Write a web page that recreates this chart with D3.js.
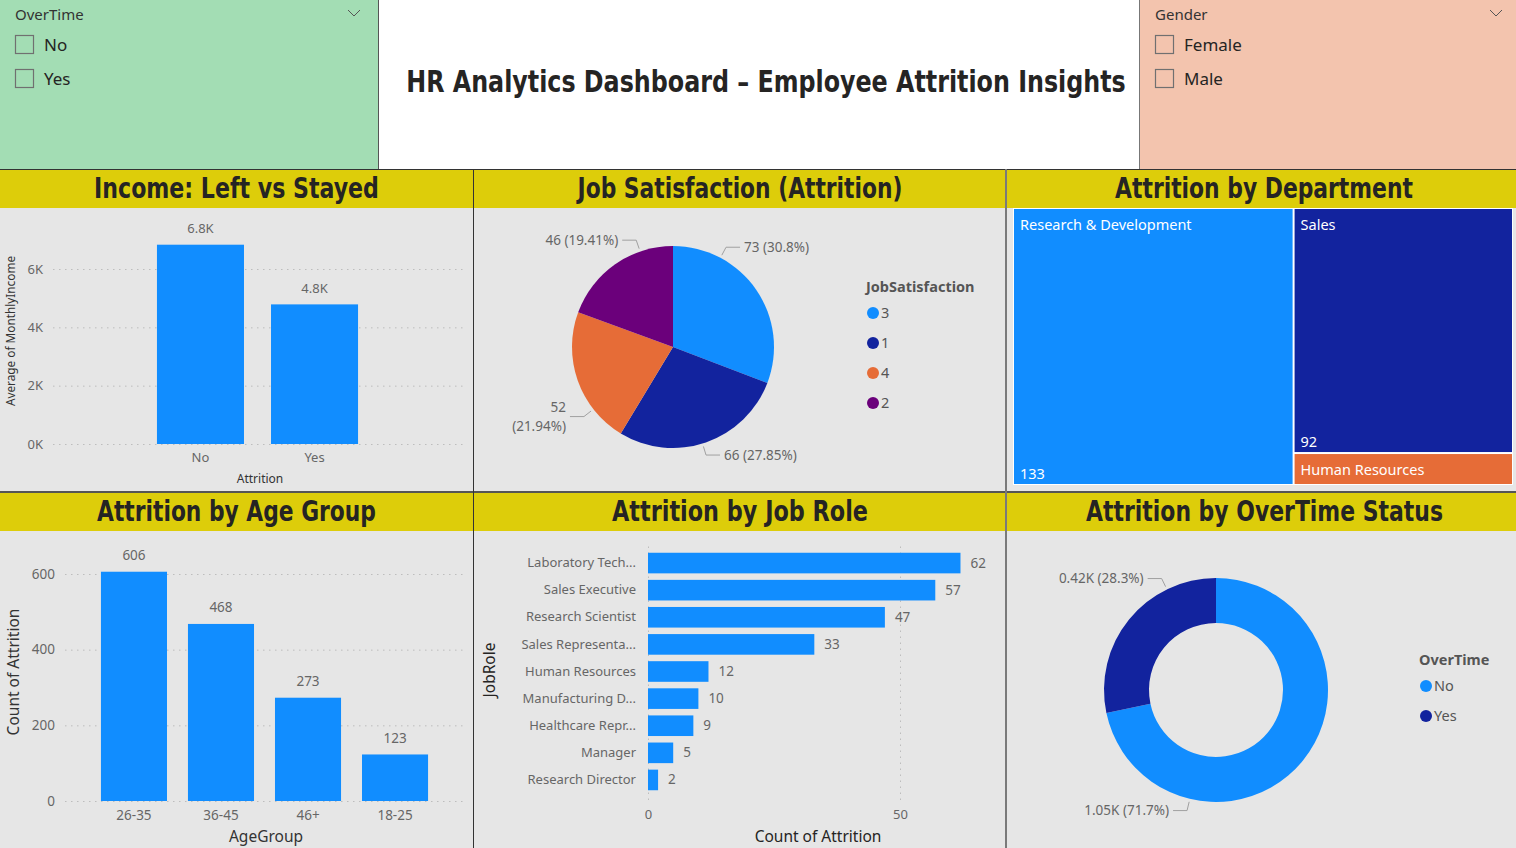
<!DOCTYPE html>
<html><head><meta charset="utf-8">
<script src="https://cdn.jsdelivr.net/npm/d3@7"></script>
<style>
body{margin:0;background:#fff;overflow:hidden}
svg{display:block}
</style>
</head><body>
<svg id="c" width="1516" height="848"></svg>
<script>
// ---------------- DATA ----------------
const incomeCategories = ["No", "Yes"];
const incomeValues = [6833, 4787];
const incomeTicks = [0, 2000, 4000, 6000];

const jobSatCategories = ["3", "1", "4", "2"];
const jobSatValues = [73, 66, 52, 46];

const deptCategories = ["Research & Development", "Sales", "Human Resources"];
const deptValues = [133, 92, 12];

const ageCategories = ["26-35", "36-45", "46+", "18-25"];
const ageValues = [606, 468, 273, 123];
const ageTicks = [0, 200, 400, 600];

const roleCategories = ["Laboratory Tech...", "Sales Executive", "Research Scientist", "Sales Representa...",
  "Human Resources", "Manufacturing D...", "Healthcare Repr...", "Manager", "Research Director"];
const roleValues = [62, 57, 47, 33, 12, 10, 9, 5, 2];
const roleTicks = [0, 50];

const overtimeCategories = ["No", "Yes"];
const overtimeValues = [1054, 416];

const overtimeSlicerItems = ["No", "Yes"];
const genderSlicerItems = ["Female", "Male"];

const titles = ["Income: Left vs Stayed", "Job Satisfaction (Attrition)", "Attrition by Department",
  "Attrition by Age Group", "Attrition by Job Role", "Attrition by OverTime Status"];
const mainTitle = "HR Analytics Dashboard \u2013 Employee Attrition Insights";

// ---------------- STYLE ----------------
const BLUE = "#118DFF", NAVY = "#12239E", ORANGE = "#E66C37", PURPLE = "#6B007B";
const jobSatColors = [BLUE, NAVY, ORANGE, PURPLE];
const deptColors = [BLUE, NAVY, ORANGE];
const overtimeColors = [BLUE, NAVY];
const SANS = "'Noto Sans','Open Sans',sans-serif";
const NARROW = "'Liberation Sans Narrow','DejaVu Sans Condensed','Roboto',sans-serif";
const PANEL_BG = "#E6E6E6", HEAD_BG = "#DDCD0A";

const svg = d3.select("#c");
svg.append("rect").attr("width", 1516).attr("height", 848).attr("fill", "#fff");

// text fitted horizontally to a target width via a transform (keeps bbox honest)
function fittedText(cx, y, str, size, targetW) {
  const g = svg.append("g");
  const t = g.append("text").attr("x", 0).attr("y", 0).attr("text-anchor", "middle")
    .attr("font-family", NARROW).attr("font-weight", "bold").attr("font-size", size)
    .attr("fill", "#252423").text(str);
  const w = t.node().getComputedTextLength() || targetW;
  g.attr("transform", `translate(${cx},${y}) scale(${targetW / w},1)`);
}

// ---------------- SLICERS ----------------
function slicer(x, w, fill, header, items, chevX) {
  const g = svg.append("g");
  g.append("rect").attr("x", x).attr("y", 0).attr("width", w).attr("height", 169).attr("fill", fill);
  g.append("text").attr("x", x + 15).attr("y", 20).text(header)
    .attr("font-family", SANS).attr("font-size", 15).attr("fill", "#333");
  g.append("polyline").attr("points", `${chevX},10 ${chevX + 6},16 ${chevX + 12},10`)
    .attr("fill", "none").attr("stroke", "#555").attr("stroke-width", 1);
  items.forEach((t, i) => {
    g.append("rect").attr("x", x + 15.5).attr("y", 35.5 + i * 34).attr("width", 18).attr("height", 18)
      .attr("fill", "none").attr("stroke", "#707070").attr("stroke-width", 1.2);
    g.append("text").attr("x", x + 44).attr("y", 51 + i * 34).text(t)
      .attr("font-family", SANS).attr("font-size", 17).attr("fill", "#252423");
  });
}
slicer(0, 379, "#A3DDB4", "OverTime", overtimeSlicerItems, 348);
slicer(1140, 376, "#F3C4AE", "Gender", genderSlicerItems, 1490);

fittedText(766, 92, mainTitle, 30, 720);

// ---------------- PANELS ----------------
const panels = [
  {x: 0, y: 169, w: 474, h: 323, cx: 236.5, tw: 285},
  {x: 474, y: 169, w: 532, h: 323, cx: 740, tw: 325},
  {x: 1006, y: 169, w: 510, h: 323, cx: 1264, tw: 298},
  {x: 0, y: 492, w: 474, h: 356, cx: 236.5, tw: 279},
  {x: 474, y: 492, w: 532, h: 356, cx: 740, tw: 256},
  {x: 1006, y: 492, w: 510, h: 356, cx: 1264.5, tw: 357}
];
panels.forEach(p => {
  svg.append("rect").attr("x", p.x).attr("y", p.y).attr("width", p.w).attr("height", p.h).attr("fill", PANEL_BG);
  svg.append("rect").attr("x", p.x).attr("y", p.y + 1).attr("width", p.w).attr("height", 38).attr("fill", HEAD_BG);
});
panels.forEach((p, i) => fittedText(p.cx, p.y + 29, titles[i], 28, p.tw));
// borders
const lines = [
  [0, 169.5, 1516, 169.5, "#333", 1],
  [0, 492, 1516, 492, "#555", 2],
  [473.5, 169, 473.5, 848, "#333", 1],
  [1006, 169, 1006, 848, "#7a7a7a", 2],
  [378.5, 0, 378.5, 169, "#555", 1],
  [1139.5, 0, 1139.5, 169, "#777", 1]
];
lines.forEach(l => svg.append("line").attr("x1", l[0]).attr("y1", l[1]).attr("x2", l[2]).attr("y2", l[3])
  .attr("stroke", l[4]).attr("stroke-width", l[5]));

function styleAxis(sel, size) {
  sel.attr("font-family", SANS).attr("font-size", size || 13);
  sel.select(".domain").remove();
  sel.selectAll(".tick line").attr("stroke", "#BDBDBD").attr("stroke-dasharray", "1.5,4.5");
  sel.selectAll(".tick text").attr("fill", "#666");
}

// ---------------- INCOME BAR ----------------
(function () {
  const g = svg.append("g");
  const x = d3.scaleBand().domain(incomeCategories).range([143.5, 371.5]).paddingInner(0.237).paddingOuter(0.118);
  const y = d3.scaleLinear().domain([0, 6000]).range([444, 269]);
  g.append("g").attr("transform", "translate(53,0)")
    .call(d3.axisLeft(y).tickValues(incomeTicks).tickFormat(d => d / 1000 + "K").tickSize(-412).tickPadding(10))
    .call(s => styleAxis(s, 13));
  g.append("g").attr("transform", "translate(0,444)")
    .call(d3.axisBottom(x).tickSize(0).tickPadding(9)).call(s => styleAxis(s, 13));
  const d = incomeCategories.map((c, i) => ({c, v: incomeValues[i]}));
  g.selectAll("rect.b").data(d).join("rect").attr("class", "b")
    .attr("x", e => x(e.c)).attr("y", e => y(e.v)).attr("width", x.bandwidth())
    .attr("height", e => y(0) - y(e.v)).attr("fill", BLUE);
  g.selectAll("text.v").data(d).join("text").attr("class", "v")
    .attr("x", e => x(e.c) + x.bandwidth() / 2).attr("y", e => y(e.v) - 11.5)
    .attr("text-anchor", "middle").attr("font-family", SANS).attr("font-size", 13).attr("fill", "#666")
    .text(e => (e.v / 1000).toFixed(1) + "K");
  g.append("text").attr("x", 260).attr("y", 483).attr("text-anchor", "middle")
    .attr("font-family", SANS).attr("font-size", 12).attr("fill", "#333").text("Attrition");
  g.append("text").attr("transform", "translate(15,331) rotate(-90)").attr("text-anchor", "middle")
    .attr("font-family", SANS).attr("font-size", 11.8).attr("fill", "#333").text("Average of MonthlyIncome");
})();

// ---------------- PIE / DONUT helpers ----------------
function fmtPct(p) { return (+(p * 100).toFixed(2)) + "%"; }
function drawLeader(g, cx, cy, r, angDeg, lines, opts) {
  const a = angDeg * Math.PI / 180;
  const p1 = [cx + (r + 3) * Math.sin(a), cy - (r + 3) * Math.cos(a)];
  const p2 = [cx + (r + opts.elbow) * Math.sin(a), cy - (r + opts.elbow) * Math.cos(a)];
  const right = Math.sin(a) > 0;
  const p3 = [p2[0] + (right ? 14 : -14), p2[1]];
  g.append("polyline").attr("points", [p1, p2, p3].map(p => p.join(",")).join(" "))
    .attr("fill", "none").attr("stroke", "#A0A0A0").attr("stroke-width", 1);
  const t = g.append("text").attr("x", p3[0] + (right ? 4 : -4)).attr("y", p3[1] + 4.5 - (lines.length - 1) * 9.5)
    .attr("text-anchor", right ? "start" : "end").attr("font-family", SANS).attr("font-size", 13.5).attr("fill", "#666");
  lines.forEach((l, i) => t.append("tspan").attr("x", p3[0] + (right ? 4 : -4)).attr("dy", i ? 19 : 0).text(l));
}
function legend(g, x, y, title, cats, colors) {
  g.append("text").attr("x", x).attr("y", y + 5).attr("font-family", SANS).attr("font-weight", "bold")
    .attr("font-size", 14.5).attr("fill", "#555").text(title);
  cats.forEach((c, i) => {
    g.append("circle").attr("cx", x + 7).attr("cy", y + 26 + i * 30).attr("r", 6).attr("fill", colors[i]);
    g.append("text").attr("x", x + 15).attr("y", y + 31 + i * 30).attr("font-family", SANS)
      .attr("font-size", 14.5).attr("fill", "#555").text(c);
  });
}

// ---------------- JOB SATISFACTION PIE ----------------
(function () {
  const g = svg.append("g");
  const cx = 673, cy = 347, r = 101;
  const total = d3.sum(jobSatValues);
  const arcs = d3.pie().sort(null)(jobSatValues);
  const arc = d3.arc().innerRadius(0).outerRadius(r);
  g.append("g").attr("transform", `translate(${cx},${cy})`).selectAll("path").data(arcs).join("path")
    .attr("d", arc).attr("fill", (d, i) => jobSatColors[i]);
  const labelAngles = [28, 163, 232, 341];
  arcs.forEach((a, i) => {
    const txt = a.data + " (" + fmtPct(a.data / total) + ")";
    const lines = i === 2 ? [String(a.data), "(" + fmtPct(a.data / total) + ")"] : [txt];
    drawLeader(g, cx, cy, r, labelAngles[i], lines, {elbow: 12});
  });
  legend(g, 866, 287, "JobSatisfaction", jobSatCategories, jobSatColors);
})();

// ---------------- DEPARTMENT TREEMAP ----------------
(function () {
  const g = svg.append("g").attr("transform", "translate(1013,208)");
  const root = d3.hierarchy({children: deptCategories.map((c, i) => ({name: c, value: deptValues[i], idx: i}))})
    .sum(d => d.value || 0);
  d3.treemap().size([500, 277]).paddingInner(2).paddingOuter(1).tile(d3.treemapSquarify)(root);
  const leaves = root.leaves();
  g.append("rect").attr("width", 500).attr("height", 277).attr("fill", "#fff");
  g.selectAll("rect.c").data(leaves).join("rect").attr("class", "c")
    .attr("x", d => d.x0).attr("y", d => d.y0).attr("width", d => d.x1 - d.x0).attr("height", d => d.y1 - d.y0)
    .attr("fill", d => deptColors[d.data.idx]);
  g.selectAll("text.n").data(leaves).join("text").attr("class", "n")
    .attr("x", d => d.x0 + 6).attr("y", d => d.y0 + 21).attr("font-family", SANS).attr("font-size", 14.5)
    .attr("fill", "#fff").text(d => d.data.name);
  g.selectAll("text.val").data(leaves.filter(d => d.y1 - d.y0 > 60)).join("text").attr("class", "val")
    .attr("x", d => d.x0 + 6).attr("y", d => d.y1 - 5).attr("font-family", SANS).attr("font-size", 14.5)
    .attr("fill", "#fff").text(d => d.data.value);
})();

// ---------------- AGE GROUP BAR ----------------
(function () {
  const g = svg.append("g");
  const x = d3.scaleBand().domain(ageCategories).range([90.5, 438.5]).paddingInner(0.241).paddingOuter(0.12);
  const y = d3.scaleLinear().domain([0, 600]).range([801, 574]);
  g.append("g").attr("transform", "translate(65,0)")
    .call(d3.axisLeft(y).tickValues(ageTicks).tickSize(-400).tickPadding(10)).call(s => styleAxis(s, 13.5));
  g.append("g").attr("transform", "translate(0,801)")
    .call(d3.axisBottom(x).tickSize(0).tickPadding(9)).call(s => styleAxis(s, 13.5));
  const d = ageCategories.map((c, i) => ({c, v: ageValues[i]}));
  g.selectAll("rect.b").data(d).join("rect").attr("class", "b")
    .attr("x", e => x(e.c)).attr("y", e => y(e.v)).attr("width", x.bandwidth())
    .attr("height", e => y(0) - y(e.v)).attr("fill", BLUE);
  g.selectAll("text.v").data(d).join("text").attr("class", "v")
    .attr("x", e => x(e.c) + x.bandwidth() / 2).attr("y", e => y(e.v) - 11.5)
    .attr("text-anchor", "middle").attr("font-family", SANS).attr("font-size", 13.5).attr("fill", "#666")
    .text(e => e.v);
  g.append("text").attr("x", 266).attr("y", 842).attr("text-anchor", "middle")
    .attr("font-family", SANS).attr("font-size", 15.5).attr("fill", "#333").text("AgeGroup");
  g.append("text").attr("transform", "translate(19,672) rotate(-90)").attr("text-anchor", "middle")
    .attr("font-family", SANS).attr("font-size", 15.5).attr("fill", "#333").text("Count of Attrition");
})();

// ---------------- JOB ROLE BAR ----------------
(function () {
  const g = svg.append("g");
  const x = d3.scaleLinear().domain([0, 50]).range([648, 900]);
  const y = d3.scaleBand().domain(roleCategories).range([549.5, 793.5]).paddingInner(0.24).paddingOuter(0.12);
  g.append("g").attr("transform", "translate(0,800)")
    .call(d3.axisBottom(x).tickValues(roleTicks).tickSize(-255).tickPadding(10)).call(s => styleAxis(s, 13));
  g.append("g").attr("transform", "translate(648,0)")
    .call(d3.axisLeft(y).tickSize(0).tickPadding(12)).call(s => styleAxis(s, 13));
  const d = roleCategories.map((c, i) => ({c, v: roleValues[i]}));
  g.selectAll("rect.b").data(d).join("rect").attr("class", "b")
    .attr("x", x(0)).attr("y", e => y(e.c)).attr("width", e => x(e.v) - x(0))
    .attr("height", y.bandwidth()).attr("fill", BLUE);
  g.selectAll("text.v").data(d).join("text").attr("class", "v")
    .attr("x", e => x(e.v) + 10).attr("y", e => y(e.c) + y.bandwidth() / 2 + 4.5)
    .attr("font-family", SANS).attr("font-size", 13.5).attr("fill", "#666").text(e => e.v);
  g.append("text").attr("x", 818).attr("y", 842).attr("text-anchor", "middle")
    .attr("font-family", SANS).attr("font-size", 15.5).attr("fill", "#252423").text("Count of Attrition");
  g.append("text").attr("transform", "translate(495,670) rotate(-90)").attr("text-anchor", "middle")
    .attr("font-family", SANS).attr("font-size", 15.5).attr("fill", "#252423").text("JobRole");
})();

// ---------------- OVERTIME DONUT ----------------
(function () {
  const g = svg.append("g");
  const cx = 1216, cy = 690, r = 112;
  const total = d3.sum(overtimeValues);
  const arcs = d3.pie().sort(null)(overtimeValues);
  const arc = d3.arc().innerRadius(67).outerRadius(r);
  g.append("g").attr("transform", `translate(${cx},${cy})`).selectAll("path").data(arcs).join("path")
    .attr("d", arc).attr("fill", (d, i) => overtimeColors[i]);
  const labelAngles = [193.5, 334];
  arcs.forEach((a, i) => {
    const txt = (a.data / 1000).toFixed(2) + "K (" + fmtPct(a.data / total) + ")";
    drawLeader(g, cx, cy, r, labelAngles[i], [txt], {elbow: 12});
  });
  legend(g, 1419, 660, "OverTime", overtimeCategories, overtimeColors);
})();
</script>
</body></html>
